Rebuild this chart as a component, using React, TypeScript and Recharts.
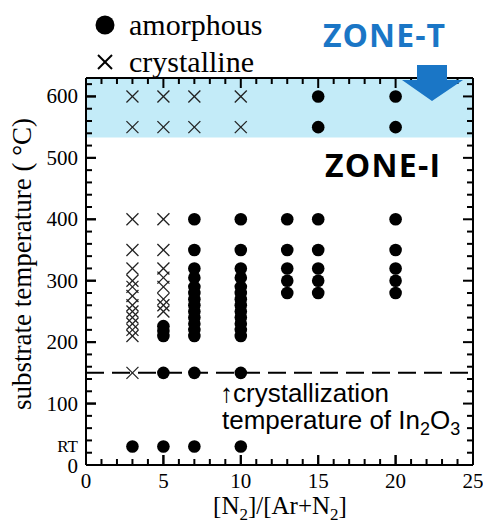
import React from 'react';
import { ScatterChart, Scatter, XAxis, YAxis, ReferenceArea, ReferenceLine } from 'recharts';

// N2 ratio columns (%)
const ratioColumns = [3, 5, 7, 10, 13, 15, 20];

// substrate temperatures (°C); RT is plotted at 30
const crystallineAt3 = [600, 550, 400, 350, 320, 300, 290, 275, 260, 250, 240, 230, 220, 210, 150];
const crystallineAt5 = [600, 550, 400, 350, 320, 305, 290, 270, 260, 250];
const crystallineAt7 = [600, 550];
const crystallineAt10 = [600, 550];

const amorphousAt3 = [30];
const amorphousAt5 = [226, 218, 210, 150, 30];
const amorphousAt7 = [400, 350, 320, 305, 290, 280, 270, 260, 250, 240, 230, 220, 210, 150, 30];
const amorphousAt10 = [400, 350, 320, 305, 290, 280, 270, 260, 250, 240, 230, 220, 210, 150, 30];
const amorphousAt13 = [400, 350, 320, 300, 280];
const amorphousAt15 = [600, 550, 400, 350, 320, 300, 280];
const amorphousAt20 = [600, 550, 400, 350, 320, 300, 280];

const X_MAX = 25;
const Y_MAX = 630;
const RT_VALUE = 30;
const CRYST_TEMP = 150;
const ZONE_T_FROM = 533;

const xTicks = Array.from({ length: X_MAX + 1 }, (_, i) => i);
const xLabelTicks = [0, 5, 10, 15, 20, 25];
const yMinorTicks = Array.from({ length: 32 }, (_, i) => i * 20);
const yLabelTicks = [0, 30, 100, 200, 300, 400, 500, 600];
const yLabels: Record<number, string> = { 0: '0', 30: 'RT', 100: '100', 200: '200', 300: '300', 400: '400', 500: '500', 600: '600' };

// chart geometry (style)
const CHART_W = 483;
const CHART_H = 523;
const MARGIN = { top: 77, right: 9, bottom: 57, left: 85 };
const PLOT_W = CHART_W - MARGIN.left - MARGIN.right - 2;
const PLOT_H = CHART_H - MARGIN.top - MARGIN.bottom - 2;
const MAJOR_PX = 10;
const MINOR_PX = 6;
const xPerPx = X_MAX / PLOT_W;
const yPerPx = Y_MAX / PLOT_H;

const toPoints = (x: number, temps: number[]) => temps.map((y) => ({ x, y }));

const crystalline = [
  ...toPoints(ratioColumns[0], crystallineAt3),
  ...toPoints(ratioColumns[1], crystallineAt5),
  ...toPoints(ratioColumns[2], crystallineAt7),
  ...toPoints(ratioColumns[3], crystallineAt10),
];
const amorphous = [
  ...toPoints(ratioColumns[0], amorphousAt3),
  ...toPoints(ratioColumns[1], amorphousAt5),
  ...toPoints(ratioColumns[2], amorphousAt7),
  ...toPoints(ratioColumns[3], amorphousAt10),
  ...toPoints(ratioColumns[4], amorphousAt13),
  ...toPoints(ratioColumns[5], amorphousAt15),
  ...toPoints(ratioColumns[6], amorphousAt20),
];

const SERIF = '"Liberation Serif", "Times New Roman", serif';
const SANS = '"Liberation Sans", Arial, sans-serif';

const Dot = (props: any) => {
  const { cx, cy } = props;
  if (cx == null || cy == null) return null;
  return <circle cx={cx} cy={cy} r={6.3} fill="#000" />;
};

const Cross = (props: any) => {
  const { cx, cy } = props;
  if (cx == null || cy == null) return null;
  const s = 6;
  return (
    <g stroke="#222" strokeWidth={1.3}>
      <line x1={cx - s} y1={cy - s} x2={cx + s} y2={cy + s} />
      <line x1={cx - s} y1={cy + s} x2={cx + s} y2={cy - s} />
    </g>
  );
};

const BottomLabel = (props: any) => {
  const { x, y, payload } = props;
  const v = payload.value;
  return (
    <g>
      <line x1={x} x2={x} y1={y} y2={y - MAJOR_PX} stroke="#000" strokeWidth={2} />
      <text x={x} y={y + 23} textAnchor="middle" fontSize={21} fontFamily={SERIF} fill="#000">
        {v}
      </text>
    </g>
  );
};

const LeftLabel = (props: any) => {
  const { x, y, payload } = props;
  const v = payload.value;
  const label = yLabels[v];
  if (!label) return <g />;
  const isRT = v === RT_VALUE;
  return (
    <g>
      {!isRT && <line x1={x} x2={x + MAJOR_PX} y1={y} y2={y} stroke="#000" strokeWidth={2} />}
      <text
        x={x - 8}
        y={v === 0 ? y + 8 : isRT ? y + 5 : y + 7}
        textAnchor="end"
        fontSize={isRT ? 17 : 21}
        fontFamily={SERIF}
        fill="#000"
      >
        {label}
      </text>
    </g>
  );
};

const Empty = () => <g />;

const tickStroke = { stroke: '#000', strokeWidth: 2 };

export default function App() {
  return (
    <div style={{ position: 'absolute', left: 0, top: 0, width: CHART_W, height: CHART_H, background: '#fff' }}>
      <svg width={CHART_W} height={CHART_H} style={{ position: 'absolute', left: 0, top: 0, pointerEvents: 'none' }}>
        {/* legend */}
        <circle cx={105} cy={25} r={9.5} fill="#000" />
        <text x={129} y={35} fontSize={30} fontFamily={SERIF} fill="#000">amorphous</text>
        <g stroke="#000" strokeWidth={2}>
          <line x1={98} y1={55} x2={112} y2={69} />
          <line x1={98} y1={69} x2={112} y2={55} />
        </g>
        <text x={129} y={72} fontSize={30} fontFamily={SERIF} fill="#000">crystalline</text>
        {/* axis titles */}
        <text x={280} y={514} textAnchor="middle" fontSize={25} fontFamily={SERIF} fill="#000">
          [N<tspan fontSize={17} dy={6}>2</tspan><tspan dy={-6}>]/[Ar+N</tspan><tspan fontSize={17} dy={6}>2</tspan><tspan dy={-6}>]</tspan>
        </text>
        <text
          x={0}
          y={0}
          transform="translate(31,264) rotate(-90)"
          textAnchor="middle"
          fontSize={27}
          fontFamily={SERIF}
          fill="#000"
        >
          substrate temperature ( °C)
        </text>
      </svg>
      <div style={{ position: 'relative' }}>
        <ScatterChart width={CHART_W} height={CHART_H} margin={MARGIN}>
          <ReferenceArea y1={ZONE_T_FROM} y2={Y_MAX} fill="#c3ebf8" fillOpacity={1} stroke="none" />
          <ReferenceLine y={CRYST_TEMP} stroke="#000" strokeWidth={2} strokeDasharray="18 8" />
          {xTicks.map((v) => {
            const len = (v % 5 === 0 ? MAJOR_PX : MINOR_PX) * yPerPx;
            return <ReferenceLine key={`b${v}`} segment={[{ x: v, y: 0 }, { x: v, y: len }]} {...tickStroke} />;
          })}
          {xTicks.map((v) => {
            const len = (v % 5 === 0 ? MAJOR_PX : MINOR_PX) * yPerPx;
            return <ReferenceLine key={`t${v}`} segment={[{ x: v, y: Y_MAX }, { x: v, y: Y_MAX - len }]} {...tickStroke} />;
          })}
          {yMinorTicks.map((v) => {
            const len = (v % 100 === 0 ? MAJOR_PX : MINOR_PX) * xPerPx;
            return <ReferenceLine key={`l${v}`} segment={[{ x: 0, y: v }, { x: len, y: v }]} {...tickStroke} />;
          })}
          {yMinorTicks.map((v) => {
            const len = (v % 100 === 0 ? MAJOR_PX : MINOR_PX) * xPerPx;
            return <ReferenceLine key={`r${v}`} segment={[{ x: X_MAX, y: v }, { x: X_MAX - len, y: v }]} {...tickStroke} />;
          })}
          <XAxis
            type="number"
            dataKey="x"
            domain={[0, X_MAX]}
            ticks={xLabelTicks}
            interval={0}
            height={1}
            tickSize={0}
            tickMargin={0}
            tickLine={false}
            tick={<BottomLabel />}
            axisLine={{ stroke: '#000', strokeWidth: 2 }}
          />
          <XAxis
            xAxisId="top"
            orientation="top"
            type="number"
            dataKey="x"
            domain={[0, X_MAX]}
            ticks={[0, X_MAX]}
            height={1}
            tickSize={0}
            tickLine={false}
            tick={<Empty />}
            axisLine={{ stroke: '#000', strokeWidth: 2 }}
            allowDataOverflow
          />
          <YAxis
            type="number"
            dataKey="y"
            domain={[0, Y_MAX]}
            ticks={yLabelTicks}
            interval={0}
            width={1}
            tickSize={0}
            tickMargin={0}
            tickLine={false}
            tick={<LeftLabel />}
            axisLine={{ stroke: '#000', strokeWidth: 2 }}
          />
          <YAxis
            yAxisId="right"
            orientation="right"
            type="number"
            dataKey="y"
            domain={[0, Y_MAX]}
            ticks={[0, Y_MAX]}
            width={1}
            tickSize={0}
            tickLine={false}
            tick={<Empty />}
            axisLine={{ stroke: '#000', strokeWidth: 2 }}
            allowDataOverflow
          />
          <Scatter name="crystalline" data={crystalline} shape={<Cross />} isAnimationActive={false} />
          <Scatter name="amorphous" data={amorphous} shape={<Dot />} isAnimationActive={false} />
        </ScatterChart>
      </div>
      <svg width={CHART_W} height={CHART_H} style={{ position: 'absolute', left: 0, top: 0, pointerEvents: 'none' }}>
        {/* zone labels */}
        <text x={323} y={47} fontSize={32} fontWeight={700} fontFamily='"Open Sans", sans-serif' fill="#1a76c6" textLength={122} lengthAdjust="spacing">ZONE-T</text>
        <path d="M417,65 L447,65 L447,80 L463,80 L432,101 L402,80 L417,80 Z" fill="#1a76c6" />
        <text x={325} y={177} fontSize={32} fontWeight={700} fontFamily='"Open Sans", sans-serif' fill="#000" textLength={115} lengthAdjust="spacing">ZONE-I</text>
        {/* annotation */}
        <text x={220} y={402} fontSize={26} fontFamily={SANS} fill="#000">↑crystallization</text>
        <text x={222} y={429} fontSize={26} fontFamily={SANS} fill="#000">
          temperature of In<tspan fontSize={18} dy={6}>2</tspan><tspan dy={-6}>O</tspan><tspan fontSize={18} dy={6}>3</tspan>
        </text>
      </svg>
    </div>
  );
}
